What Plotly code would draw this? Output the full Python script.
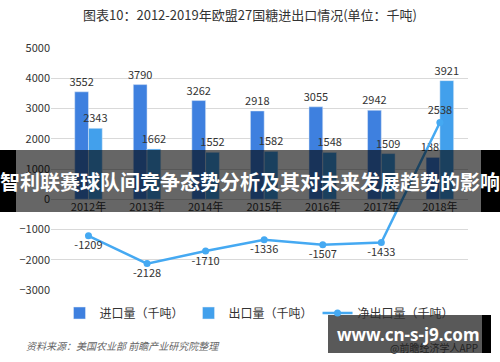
import plotly.graph_objects as go

years = ["2012年", "2013年", "2014年", "2015年", "2016年", "2017年", "2018年"]
imports = [3552, 3790, 3262, 2918, 3055, 2942, 1383]
exports = [2343, 1662, 1552, 1582, 1548, 1509, 3921]
net_exports = [-1209, -2128, -1710, -1336, -1507, -1433, 2538]

W, H = 500, 362
FONT = "Noto Sans CJK SC, Microsoft YaHei, sans-serif"
TXT = "#333333"

fig = go.Figure()
fig.add_trace(go.Bar(
    x=years, y=imports, name="进口量（千吨）", marker_color="#3E80DF",
    text=imports, textposition="outside", cliponaxis=False, constraintext="none",
    textfont=dict(size=11, color=TXT, family=FONT)))
fig.add_trace(go.Bar(
    x=years, y=exports, name="出口量（千吨）", marker_color="#42A0EC",
    text=exports, textposition="outside", cliponaxis=False, constraintext="none",
    textfont=dict(size=11, color=TXT, family=FONT)))
fig.add_trace(go.Scatter(
    x=years, y=net_exports, name="净出口量（千吨）", mode="lines+markers+text",
    line=dict(color="#45A9F2", width=2.5), marker=dict(size=7, color="#45A9F2"),
    text=net_exports,
    textposition=["bottom center"] * 6 + ["top center"],
    cliponaxis=False,
    textfont=dict(size=11, color=TXT, family=FONT)))

l, r, t, b = 51, 32, 48, 72
PW, PH = W - l - r, H - t - b


def px(x):
    return (x - l) / PW


def py(y):
    return (H - b - y) / PH


fig.update_layout(
    width=W, height=H, margin=dict(l=l, r=r, t=t, b=b, autoexpand=False),
    paper_bgcolor="white", plot_bgcolor="white",
    font=dict(family=FONT, color=TXT, size=11),
    barmode="group", bargap=0.53, bargroupgap=0,
    title=dict(text="图表10：2012-2019年欧盟27国糖进出口情况(单位：千吨)",
               x=0.5, xanchor="center", y=1 - 15 / H, yanchor="middle",
               font=dict(size=13, color=TXT, family=FONT)),
    showlegend=True,
    legend=dict(orientation="h", x=0.5, xanchor="center", y=py(313),
                yanchor="middle", font=dict(size=12, color=TXT, family=FONT),
                itemwidth=30, bgcolor="rgba(0,0,0,0)"),
    xaxis=dict(range=[-0.64, 6.48], anchor="free", position=3000 / 8000,
               showgrid=False, showline=False, ticks="", automargin=False,
               tickfont=dict(size=11, color=TXT, family=FONT)),
    yaxis=dict(range=[-3000, 5000], dtick=1000, showgrid=True, gridcolor="#D9D9D9",
               zeroline=True, zerolinecolor="#D9D9D9", zerolinewidth=1,
               showline=False, ticks="", automargin=False,
               tickfont=dict(size=11, color=TXT, family=FONT)),
)

# overlay banner
fig.add_shape(type="rect", xref="paper", yref="paper", layer="above",
              x0=px(16), x1=px(481), y0=py(212), y1=py(150),
              fillcolor="rgba(0,0,0,0.6)", line_width=0)
for xa, xb in [(0, 16), (481, 500)]:
    fig.add_shape(type="rect", xref="paper", yref="paper", layer="above",
                  x0=px(xa), x1=px(xb), y0=py(212), y1=py(150),
                  fillcolor="black", line_width=0)
fig.add_annotation(xref="paper", yref="paper", x=px(250), y=py(182), showarrow=False,
                   text="<b>智利联赛球队间竞争态势分析及其对未来发展趋势的影响</b>",
                   font=dict(size=20, color="white", family=FONT))

# source note
fig.add_annotation(xref="paper", yref="paper", x=px(24), xanchor="left",
                   y=py(345), yanchor="middle", showarrow=False,
                   text="<i>资料来源：美国农业部 前瞻产业研究院整理</i>",
                   font=dict(size=10, color="#666666", family=FONT))

# bottom-right watermark box
fig.add_shape(type="rect", xref="paper", yref="paper", layer="above",
              x0=px(328), x1=px(482), y0=py(353), y1=py(315),
              fillcolor="rgba(60,60,60,0.85)", line_width=0)
fig.add_shape(type="rect", xref="paper", yref="paper", layer="above",
              x0=px(482), x1=px(491), y0=py(353), y1=py(315),
              fillcolor="black", line_width=0)
fig.add_annotation(xref="paper", yref="paper", x=px(480), xanchor="right",
                   y=py(347), yanchor="middle", showarrow=False,
                   text="@前瞻经济学人APP", font=dict(size=10, color="#222222", family=FONT))
fig.add_annotation(xref="paper", yref="paper", x=px(408), xanchor="center",
                   y=py(334), yanchor="middle", showarrow=False,
                   text="<b>www.cn-s-j9.com</b>",
                   font=dict(size=17, color="white", family="Noto Sans, sans-serif"))

fig.write_html("out.html", config={"displayModeBar": False},
               post_script="document.body.style.margin='0';")
